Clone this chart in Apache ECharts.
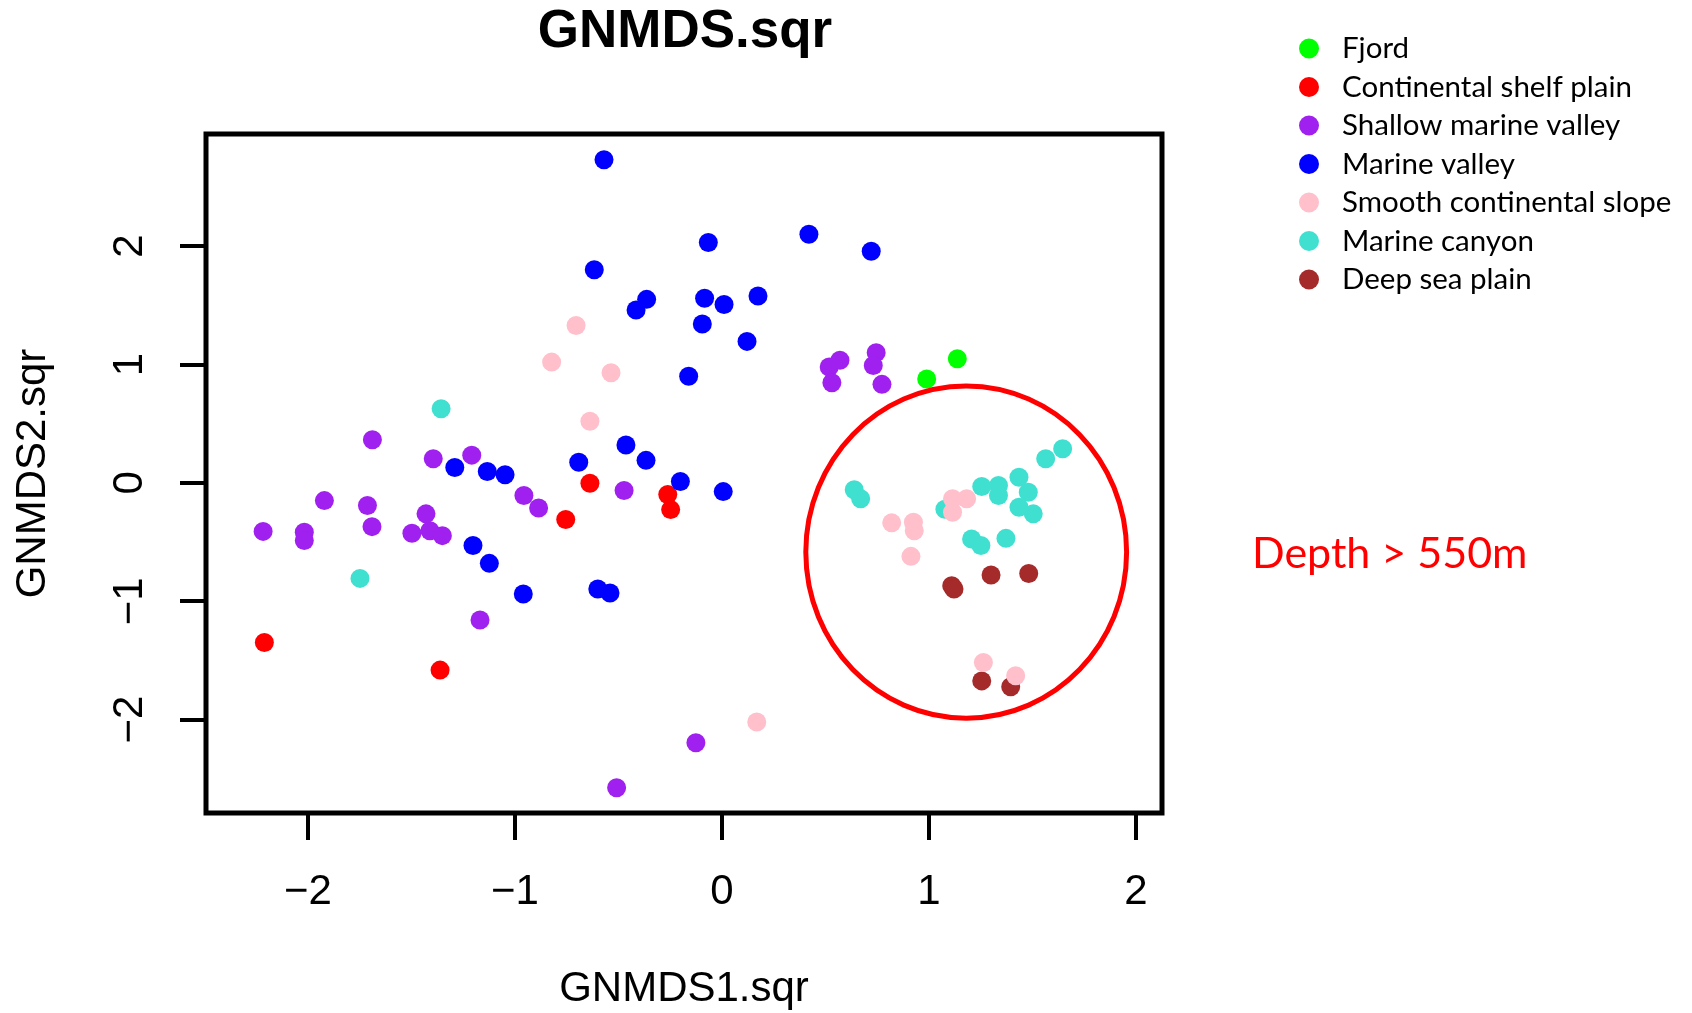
<!DOCTYPE html>
<html>
<head>
<meta charset="utf-8">
<title>GNMDS.sqr</title>
<script src="https://cdn.jsdelivr.net/npm/echarts@6/dist/echarts.min.js"></script>
<style>
  html, body { margin: 0; padding: 0; background: #ffffff; }
  #chart { width: 1692px; height: 1013px; }
</style>
</head>
<body>
<div id="chart"></div>
<script>
// landscape classes, in legend order
const groups = [
  "Fjord",
  "Continental shelf plain",
  "Shallow marine valley",
  "Marine valley",
  "Smooth continental slope",
  "Marine canyon",
  "Deep sea plain",
];
const groupColors = ["#00ff00", "#ff0000", "#a020f0", "#0000ff", "#ffc0cb", "#40e0d0", "#a52a2a"];

// [GNMDS1.sqr, GNMDS2.sqr]
const fjord = [[1.137, 1.049], [0.989, 0.877]];
const continentalShelfPlain = [
  [-0.638, -0.003], [-0.262, -0.099], [-0.248, -0.226], [-0.755, -0.31],
  [-2.211, -1.349], [-1.362, -1.582],
];
const shallowMarineValley = [
  [-1.689, 0.364], [-1.395, 0.203], [-1.209, 0.234], [-0.473, -0.065],
  [-0.957, -0.107], [-0.886, -0.212], [-1.921, -0.15], [-1.713, -0.192],
  [-1.691, -0.37], [-2.217, -0.41], [-2.018, -0.418], [-2.018, -0.488],
  [-1.43, -0.262], [-1.498, -0.426], [-1.411, -0.404], [-1.351, -0.446],
  [-1.169, -1.159], [-0.126, -2.195], [-0.509, -2.575], [0.57, 1.035],
  [0.518, 0.978], [0.531, 0.846], [0.745, 1.1], [0.731, 0.992], [0.773, 0.832],
];
const marineValley = [
  [-0.57, 2.73], [-0.617, 1.8], [-0.364, 1.55], [-0.415, 1.46], [-0.161, 0.9],
  [-1.291, 0.13], [-0.464, 0.32], [-0.367, 0.19], [-0.692, 0.174], [-1.134, 0.096],
  [-1.048, 0.068], [-0.201, 0.011], [-1.203, -0.53], [-1.124, -0.68], [-0.96, -0.939],
  [-0.6, -0.897], [-0.541, -0.931], [-0.066, 2.03], [0.42, 2.1], [0.721, 1.957],
  [-0.084, 1.56], [0.01, 1.506], [0.174, 1.579], [-0.095, 1.342], [0.121, 1.195],
  [0.006, -0.074],
];
const smoothContinentalSlope = [
  [-0.705, 1.33], [-0.823, 1.02], [-0.536, 0.93], [-0.638, 0.52], [0.168, -2.02],
  [0.82, -0.338], [0.925, -0.333], [0.929, -0.404], [0.913, -0.621], [1.114, -0.135],
  [1.182, -0.135], [1.114, -0.248], [1.263, -1.518], [1.419, -1.63],
];
const marineCanyon = [
  [-1.357, 0.626], [-1.749, -0.807], [0.639, -0.059], [0.67, -0.135], [1.077, -0.223],
  [1.255, -0.031], [1.336, -0.023], [1.336, -0.107], [1.435, 0.047], [1.48, -0.079],
  [1.435, -0.206], [1.504, -0.262], [1.564, 0.203], [1.646, 0.288], [1.206, -0.474],
  [1.251, -0.53], [1.372, -0.469],
];
const deepSeaPlain = [
  [1.3, -0.778], [1.482, -0.765], [1.11, -0.869], [1.121, -0.897],
  [1.255, -1.673], [1.395, -1.723],
];

const xTicks = [-2, -1, 0, 1, 2];
const yTicks = [-2, -1, 0, 1, 2];

// ellipse marking the deep stations: [centre x, centre y, radius x, radius y]
const deepRegion = [[1.18, -0.585, 0.775, 1.403]];

const groupData = [
  fjord, continentalShelfPlain, shallowMarineValley, marineValley,
  smoothContinentalSlope, marineCanyon, deepSeaPlain,
];
// pink points are plotted last in the original, on top of the others
const drawOrder = [0, 1, 2, 3, 5, 6, 4];

const minus = (v) => String(v).replace("-", "\u2212");
const axisFont = "'Liberation Sans', Arial, sans-serif";
const legendFont = "Lato, 'Noto Sans', sans-serif";

const chart = echarts.init(document.getElementById("chart"));

const scatterSeries = drawOrder.map((i) => ({
  name: groups[i],
  type: "scatter",
  symbol: "circle",
  symbolSize: 19,
  itemStyle: { color: groupColors[i], opacity: 1 },
  emphasis: { disabled: true },
  data: groupData[i],
}));

chart.setOption({
  animation: false,
  backgroundColor: "#ffffff",
  grid: {
    left: 206,
    top: 134,
    width: 956,
    height: 679,
    show: true,
    borderColor: "#000000",
    borderWidth: 5,
    outerBoundsMode: "none",
  },
  xAxis: {
    type: "value",
    min: -2.493,
    max: 2.126,
    name: "GNMDS1.sqr",
    nameLocation: "middle",
    nameGap: 155,
    nameTextStyle: { fontFamily: axisFont, fontSize: 42, color: "#000" },
    axisLine: { show: false, onZero: false },
    axisTick: {
      show: true,
      inside: false,
      length: 27,
      customValues: xTicks,
      lineStyle: { color: "#000", width: 4 },
    },
    axisLabel: {
      customValues: xTicks,
      margin: 58,
      formatter: minus,
      fontFamily: axisFont,
      fontSize: 42,
      color: "#000",
    },
    splitLine: { show: false },
  },
  yAxis: {
    type: "value",
    min: -2.789,
    max: 2.947,
    name: "GNMDS2.sqr",
    nameLocation: "middle",
    nameGap: 152,
    nameTextStyle: { fontFamily: axisFont, fontSize: 42, color: "#000" },
    axisLine: { show: false, onZero: false },
    axisTick: {
      show: true,
      inside: false,
      length: 26,
      customValues: yTicks,
      lineStyle: { color: "#000", width: 4 },
    },
    axisLabel: {
      customValues: yTicks,
      rotate: 90,
      margin: 55,
      formatter: minus,
      fontFamily: axisFont,
      fontSize: 42,
      color: "#000",
    },
    splitLine: { show: false },
  },
  legend: {
    orient: "vertical",
    left: 1294,
    top: 28.5,
    padding: 5,
    itemWidth: 56,
    itemHeight: 20,
    itemGap: 8.5,
    icon: "circle",
    selectedMode: false,
    data: groups,
    textStyle: { fontFamily: legendFont, fontSize: 29.5, color: "#000" },
  },
  graphic: [
    {
      type: "text",
      x: 685,
      y: 32,
      style: {
        text: "GNMDS.sqr",
        fontFamily: axisFont,
        fontWeight: "bold",
        fontSize: 53,
        fill: "#000",
        textAlign: "center",
        textVerticalAlign: "middle",
      },
    },
    {
      type: "text",
      x: 1252,
      y: 554,
      style: {
        text: "Depth > 550m",
        fontFamily: legendFont,
        fontSize: 43,
        fill: "#ff0000",
        textAlign: "left",
        textVerticalAlign: "middle",
      },
    },
  ],
  series: [
    ...scatterSeries,
    {
      type: "custom",
      name: "deep region",
      silent: true,
      clip: false,
      z: 3,
      renderItem: (params, api) => {
        const c = api.coord([api.value(0), api.value(1)]);
        const s = api.size([api.value(2), api.value(3)]);
        return {
          type: "ellipse",
          shape: { cx: c[0], cy: c[1], rx: s[0], ry: s[1] },
          style: { fill: "none", stroke: "#ff0000", lineWidth: 5 },
        };
      },
      data: deepRegion,
    },
  ],
});
</script>
</body>
</html>
